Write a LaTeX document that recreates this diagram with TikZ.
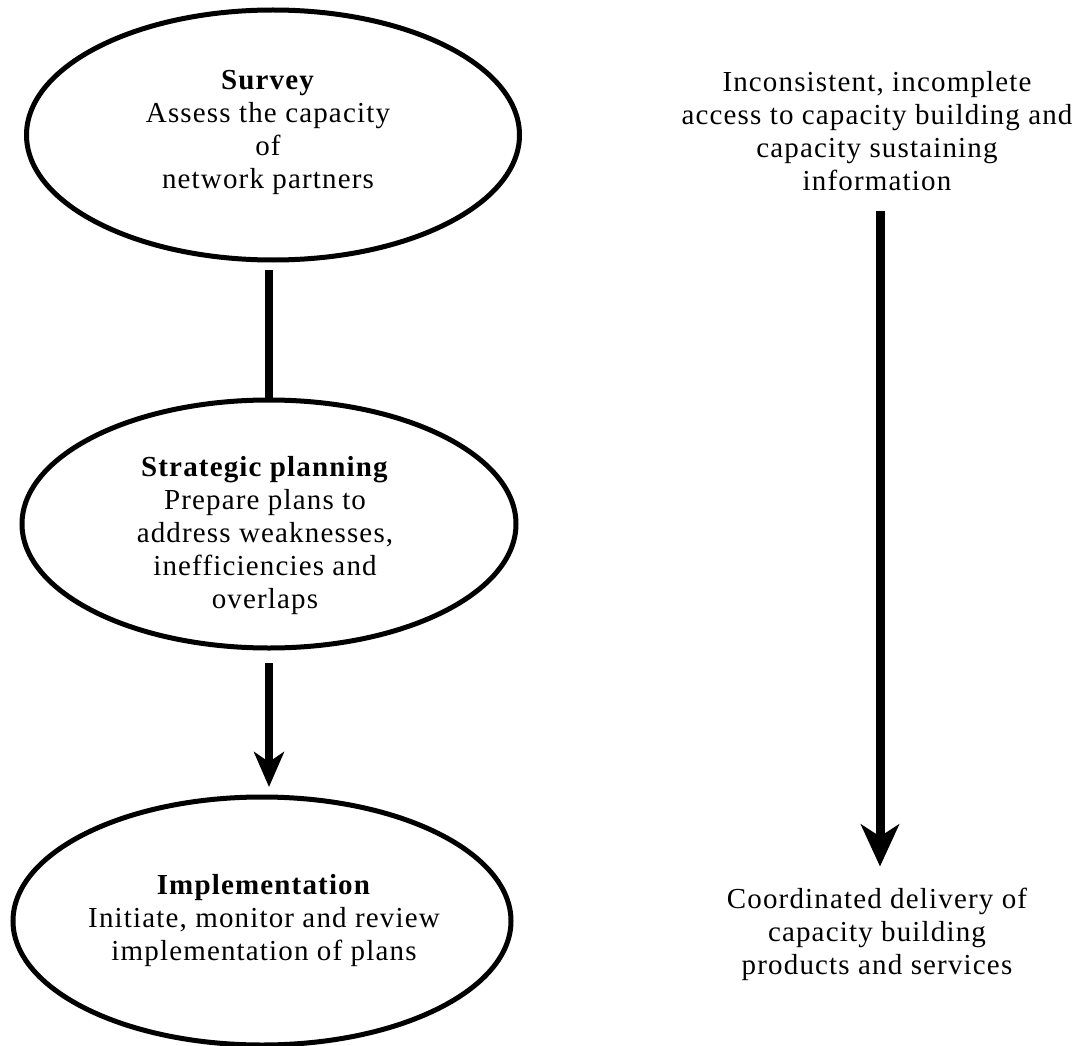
\documentclass[tikz,border=0pt]{standalone}
\usepackage{fontspec}
\setmainfont[LetterSpace=4]{Liberation Serif}
\usetikzlibrary{arrows.meta,calc,shapes.geometric}
\begin{document}
\begin{tikzpicture}[x=1pt,y=-1pt,
  stage/.style={draw, ellipse, line width=5pt, inner sep=0pt, outer sep=0pt},
  txt/.style={align=center, inner sep=0pt, font=\fontsize{29}{33}\selectfont},
  link/.style={line width=8pt},
  flow/.style={line width=8pt, -{Stealth[length=35pt,width=30pt,inset=10pt]}},
  bigflow/.style={line width=9pt, -{Stealth[length=42pt,width=38pt,inset=12pt]}}]
\useasboundingbox (0,0) rectangle (1077,1046);

% stage outlines
\node[stage, minimum width=493pt, minimum height=250pt] (survey) at (273,135) {};
\node[stage, minimum width=494pt, minimum height=248pt] (plan) at (269,524) {};
\node[stage, minimum width=498pt, minimum height=248pt] (impl) at (262,921) {};

% stage texts
\node[txt] (surveyT) at (268,132) {\textbf{Survey}\\Assess the capacity\\of\\network partners};
\node[txt] (planT) at (265,536) {\textbf{Strategic planning}\\Prepare plans to\\address weaknesses,\\inefficiencies and\\overlaps};
\node[txt] (implT) at (264,921) {\textbf{Implementation}\\Initiate, monitor and review\\implementation of plans};

% right column: from situation to outcome
\node[txt] (src) at (877,131) {Inconsistent, incomplete\\access to capacity building and\\capacity sustaining\\information};
\node[txt] (dst) at (877,934) {Coordinated delivery of\\capacity building\\products and services};

% connectors
\draw[link] ($(survey.south -| plan.north)+(0,10)$) -- (plan.north);
\draw[flow] ($(plan.south)+(0,15)$) -- ($(plan.south |- impl.north)+(0,-10)$);
\draw[bigflow] ($(src.south)+(3,20)$) -- ($(dst.north)+(3,-21)$);
\end{tikzpicture}
\end{document}
